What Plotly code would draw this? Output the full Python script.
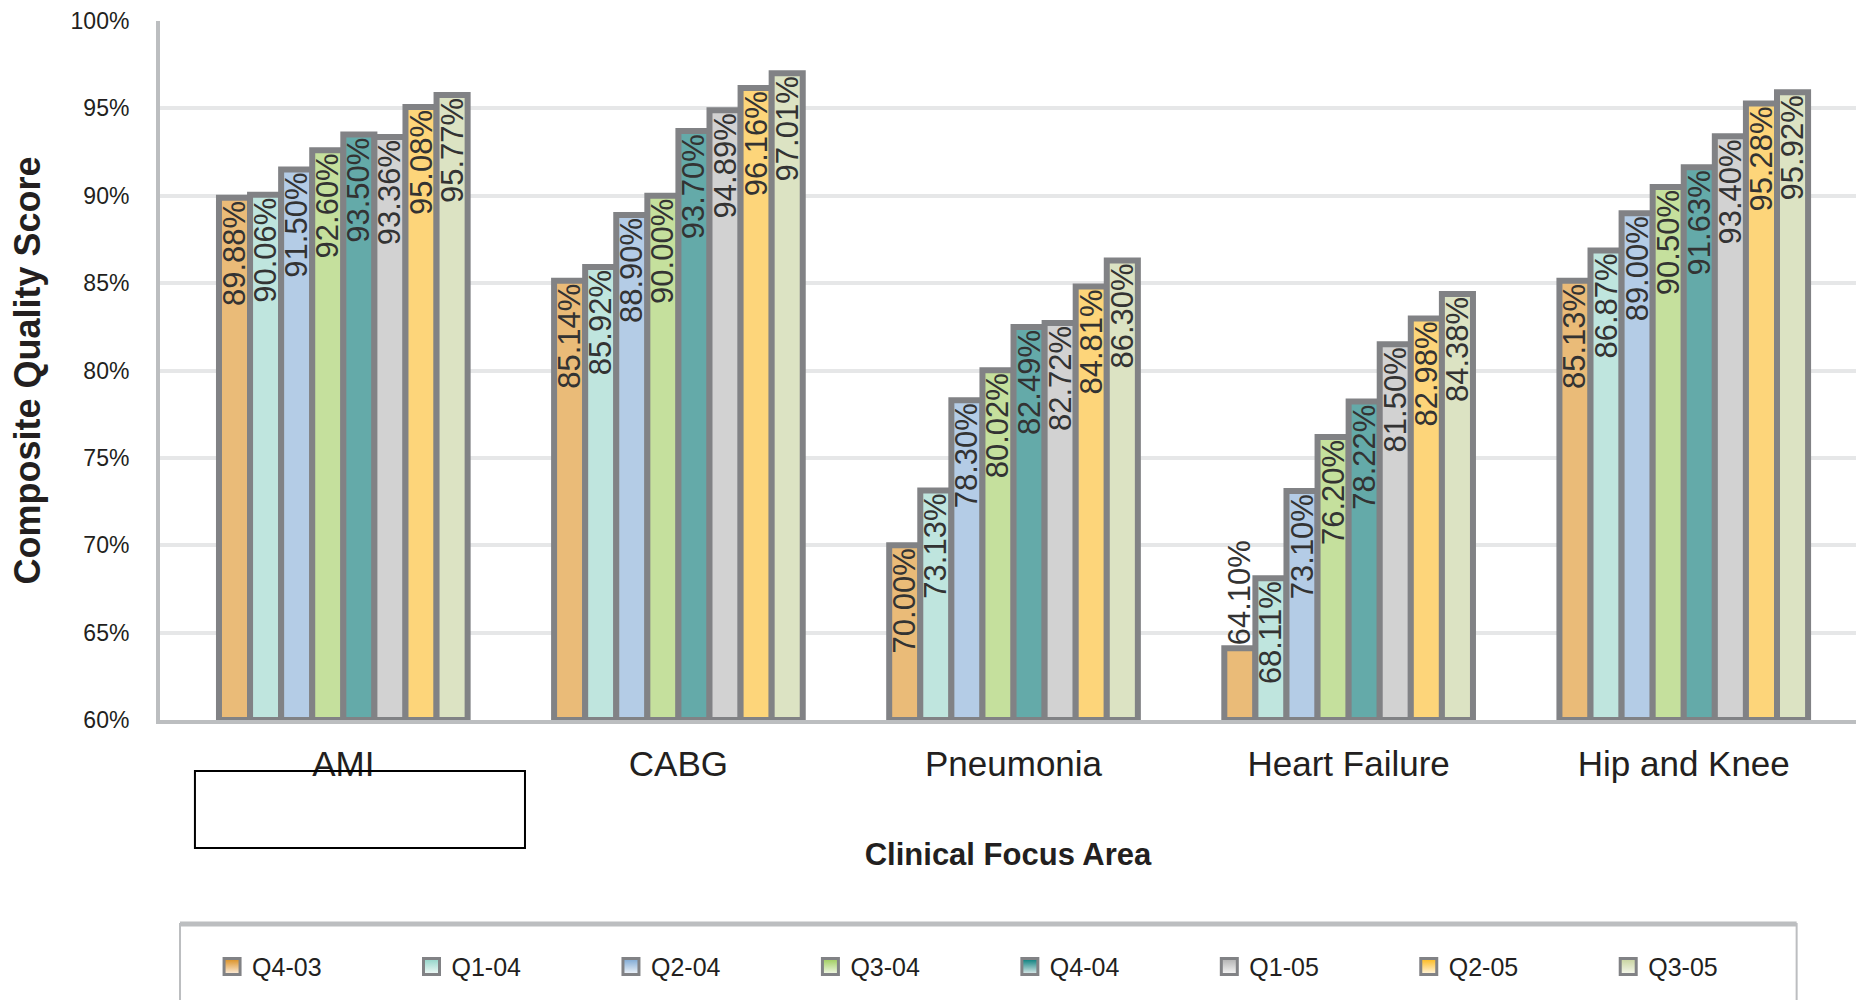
import plotly.graph_objects as go

# ---------------- data ----------------
categories = ["AMI", "CABG", "Pneumonia", "Heart Failure", "Hip and Knee"]
quarters = ["Q4-03", "Q1-04", "Q2-04", "Q3-04", "Q4-04", "Q1-05", "Q2-05", "Q3-05"]

q4_03 = [89.88, 85.14, 70.00, 64.10, 85.13]
q1_04 = [90.06, 85.92, 73.13, 68.11, 86.87]
q2_04 = [91.50, 88.90, 78.30, 73.10, 89.00]
q3_04 = [92.60, 90.00, 80.02, 76.20, 90.50]
q4_04 = [93.50, 93.70, 82.49, 78.22, 91.63]
q1_05 = [93.36, 94.89, 82.72, 81.50, 93.40]
q2_05 = [95.08, 96.16, 84.81, 82.98, 95.28]
q3_05 = [95.77, 97.01, 86.30, 84.38, 95.92]

series = [q4_03, q1_04, q2_04, q3_04, q4_04, q1_05, q2_05, q3_05]

y_min, y_max, y_step = 60, 100, 5

# ---------------- styles ----------------
bar_colors = ["#eabb78", "#bfe5de", "#b4cce6", "#c5e09d",
              "#64aaa9", "#d2d2d2", "#fdd57a", "#dce3c3"]
dark_colors = ["#d98c1c", "#8fd3c7", "#7aa6d2", "#9ccb58",
               "#007a78", "#b0b0b0", "#fbb717", "#c6d29c"]
light_colors = ["#fdf0e2", "#f2faf8", "#f2f6fb", "#f3f9ea",
                "#e4eeee", "#f7f7f7", "#fff6e3", "#f6f8ee"]
border = "#818285"
axis_gray = "#bcbec0"
grid_gray = "#e6e7e8"
txt = "#231f20"
FONT = "Liberation Sans, Arial, sans-serif"
LABEL_FIT = 6  # bars shorter than this (in % points) get their label outside

fig = go.Figure()

for name, vals, col in zip(quarters, series, bar_colors):
    fig.add_trace(go.Bar(
        name=name,
        x=categories,
        y=[v - y_min for v in vals],
        base=y_min,
        marker=dict(color=col, line=dict(color=border, width=6)),
        text=[f"{v:.2f}%" for v in vals],
        textposition=["outside" if v - y_min < LABEL_FIT else "inside" for v in vals],
        insidetextanchor="end",
        textangle=-90,
        textfont=dict(family=FONT, size=31, color="#333333"),
        cliponaxis=False,
        showlegend=False,
        hovertemplate="%{x}<br>" + name + ": %{text}<extra></extra>",
    ))

# legend entries (gradient swatches)
for name, dk, lt in zip(quarters, dark_colors, light_colors):
    fig.add_trace(go.Scatter(
        name=name, x=[None], y=[None], mode="markers",
        marker=dict(symbol="square", size=16, color=dk,
                    gradient=dict(type="vertical", color=lt),
                    line=dict(color=border, width=3)),
        showlegend=True, hoverinfo="skip",
    ))

fig.update_layout(
    width=1856, height=1000,
    margin=dict(l=160, r=0, t=21, b=280, autoexpand=False),
    plot_bgcolor="white", paper_bgcolor="white",
    barmode="group", bargap=0.258, bargroupgap=0,
    font=dict(family=FONT, color=txt),
    uniformtext=dict(minsize=31, mode="show"),
    legend=dict(orientation="h", x=0.0307, xanchor="left",
                y=-0.353, yanchor="middle",
                entrywidth=0.1176, entrywidthmode="fraction",
                font=dict(family=FONT, size=25, color=txt),
                bgcolor="rgba(0,0,0,0)", traceorder="normal"),
    shapes=[
        # empty annotation box under AMI
        dict(type="rect", xref="paper", yref="paper",
             x0=0.0206, x1=0.2152, y0=-0.073, y1=-0.183,
             line=dict(color="black", width=2)),
        # legend frame
        dict(type="rect", xref="paper", yref="paper",
             x0=0.0118, x1=0.965, y0=-0.292, y1=-0.45,
             line=dict(color=axis_gray, width=2)),
        dict(type="line", xref="paper", yref="paper",
             x0=0.0118, x1=0.965, y0=-0.292, y1=-0.292,
             line=dict(color=axis_gray, width=5)),
    ],
)

fig.update_xaxes(
    type="category", categoryorder="array", categoryarray=categories,
    range=[-0.547, 4.514],
    showline=True, linecolor=axis_gray, linewidth=4,
    ticks="", tickfont=dict(family=FONT, size=35, color=txt),
    ticklabelstandoff=10,
    title=dict(text="<b>Clinical Focus Area</b>",
               font=dict(family=FONT, size=31, color=txt), standoff=62),
    showgrid=False, zeroline=False,
)

fig.update_yaxes(
    range=[y_min, y_max], tick0=y_min, dtick=y_step, ticksuffix="%",
    showgrid=True, gridcolor=grid_gray, gridwidth=4,
    showline=True, linecolor=axis_gray, linewidth=4,
    ticks="", tickfont=dict(family=FONT, size=23, color=txt),
    ticklabelstandoff=22,
    title=dict(text="<b>Composite Quality Score</b>",
               font=dict(family=FONT, size=36, color=txt), standoff=20),
    zeroline=False,
)

fig.write_html("out.html", config={"displayModeBar": False},
               post_script="document.body.style.margin='0';document.body.style.overflow='hidden';")
